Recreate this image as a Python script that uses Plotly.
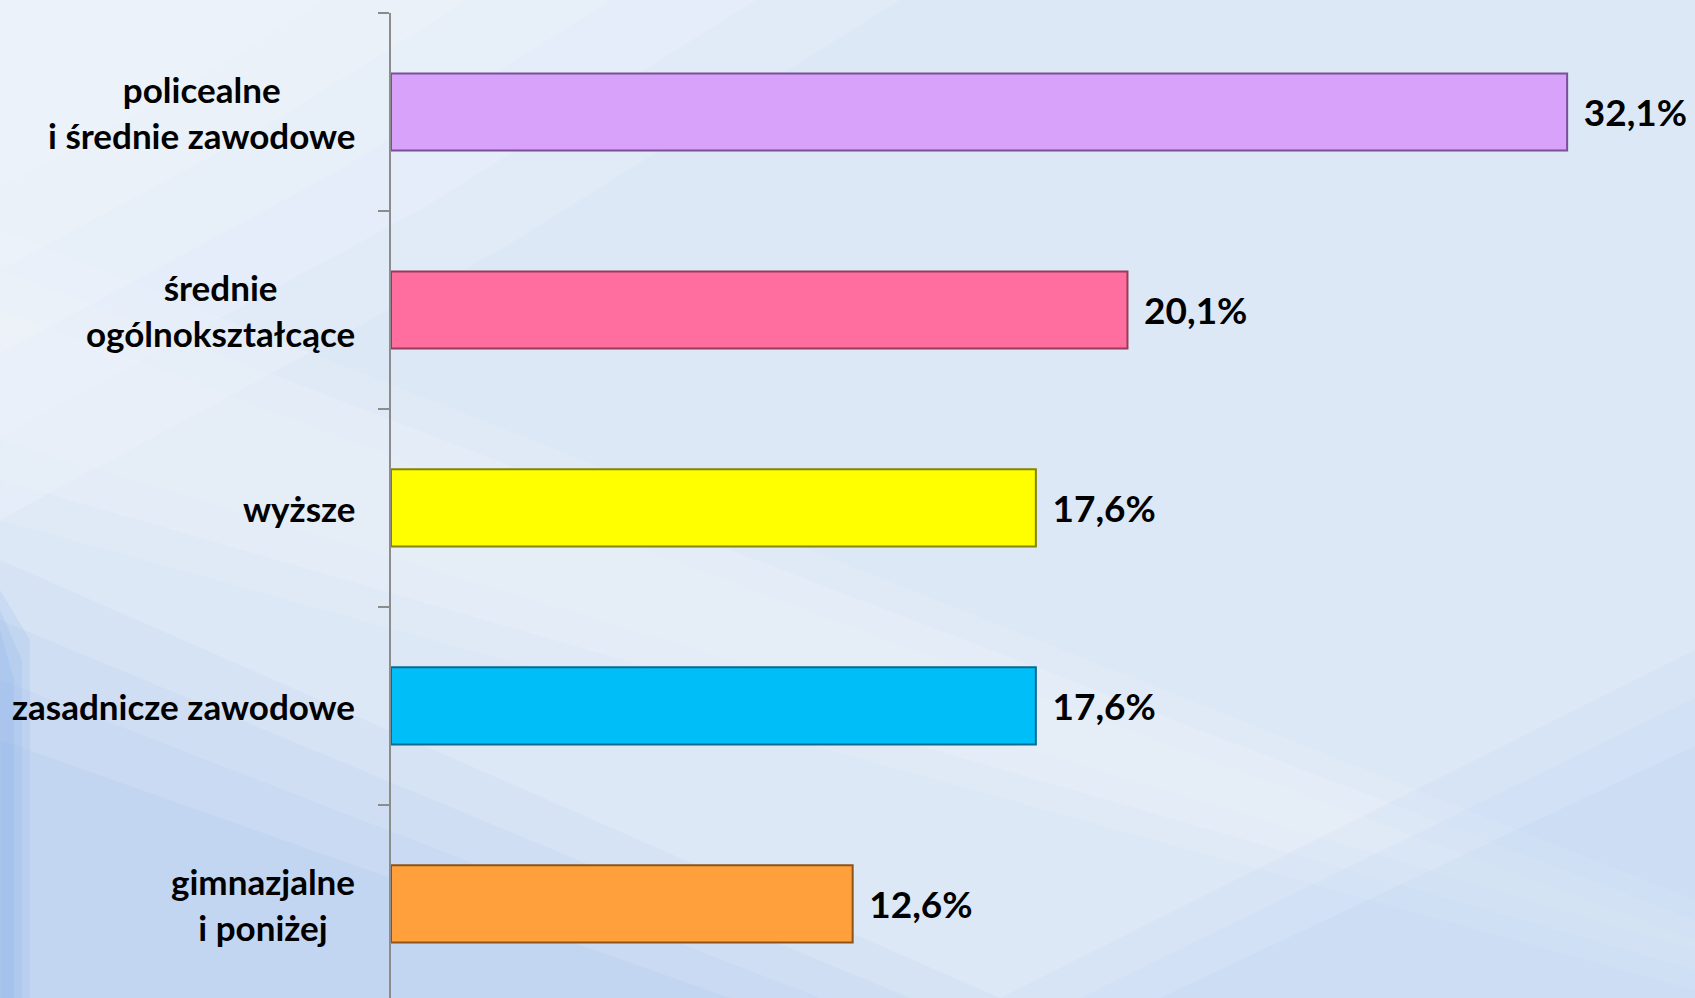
import plotly.graph_objects as go

categories = [
    "policealne<br>i średnie zawodowe",
    "średnie<br>ogólnokształcące",
    "wyższe",
    "zasadnicze zawodowe",
    "gimnazjalne<br>i poniżej",
]
values = [32.1, 20.1, 17.6, 17.6, 12.6]
bar_colors = ["#d8a2fb", "#ff6e9e", "#ffff00", "#00bef8", "#ffa03c"]
edge_colors = ["#7a4f98", "#9a3a58", "#858500", "#0a6a90", "#8f5415"]
value_labels = ["\u00a0\u2009" + f"{v:.1f}".replace(".", ",") + "%" for v in values]

W, H = 1695, 998
L, T = 391, 13
PW, PH = W - L, H - T
FONT = "Lato"


def px(xp, yp):
    return ((xp - L) / PW, 1 - (yp - T) / PH)


def poly(points, color):
    pts = [px(a, b) for a, b in points]
    d = "M " + " L ".join(f"{a:.4f},{b:.4f}" for a, b in pts) + " Z"
    return dict(type="path", xref="paper", yref="paper", path=d,
                fillcolor=color, line=dict(width=0), layer="below")


shapes = []
# soft white glow, top-left
for k in range(5):
    s = 1 - 0.16 * k
    shapes.append(poly([(0, 0), (900 * s, 0), (500 * s, 250 * s), (0, 520 * s)],
                       "rgba(255,255,255,0.13)"))
# lighter diagonal streak
for k in range(3):
    d = 40 * k
    shapes.append(poly([(0, 230 + d), (0, 520 - d), (1695, 990 - d * 0.5), (1695, 900 + d * 0.5)],
                       "rgba(255,255,255,0.10)"))
# bluer lower-left
for k in range(4):
    d = 60 * k
    shapes.append(poly([(0, 560 + d), (0, 998), (1000 - d * 1.5, 998)],
                       "rgba(140,180,235,0.09)"))
# left edge strip
for k in range(3):
    w = 30 - 8 * k
    shapes.append(poly([(0, 590 + 20 * k), (w, 640 + 20 * k), (w, 998), (0, 998)],
                       "rgba(110,160,228,0.12)"))
# bluer lower-right
for k in range(3):
    d = 80 * k
    shapes.append(poly([(1000 + d, 998), (1695, 650 + d * 0.6), (1695, 998)],
                       "rgba(150,188,238,0.08)"))

fig = go.Figure()
fig.add_trace(go.Bar(
    y=categories, x=values, orientation="h", width=0.39,
    marker=dict(color=bar_colors, line=dict(color=edge_colors, width=2)),
    text=value_labels, textposition="outside", cliponaxis=False,
    constraintext="none",
    textfont=dict(family=FONT, size=37, color="#000000", weight="bold"),
    hoverinfo="skip",
))

annotations = []
for c in categories:
    annotations.append(dict(
        x=0, xref="paper", y=c, yref="y", xanchor="right", yanchor="middle",
        xshift=-34, text=c, showarrow=False, align="center",
        font=dict(family=FONT, size=35, color="#000000", weight="bold"),
    ))

fig.update_layout(
    width=W, height=H,
    margin=dict(l=L, r=0, t=T, b=0, pad=0),
    paper_bgcolor="#dde8f7", plot_bgcolor="rgba(0,0,0,0)",
    showlegend=False,
    shapes=shapes, annotations=annotations,
    font=dict(family=FONT),
)
fig.update_xaxes(range=[0, PW / 36.64], visible=False, showgrid=False, zeroline=False)
fig.update_yaxes(
    type="category", range=[4.475, -0.5], showgrid=False, zeroline=False,
    showline=True, linecolor="#8c8c8c", linewidth=2,
    ticks="outside", ticklen=11, tickcolor="#8c8c8c", tickwidth=2,
    tickson="boundaries", showticklabels=False,
)

fig.write_html("out.html", config={"displayModeBar": False},
               post_script="document.body.style.margin='0px';document.body.style.overflow='hidden';")
